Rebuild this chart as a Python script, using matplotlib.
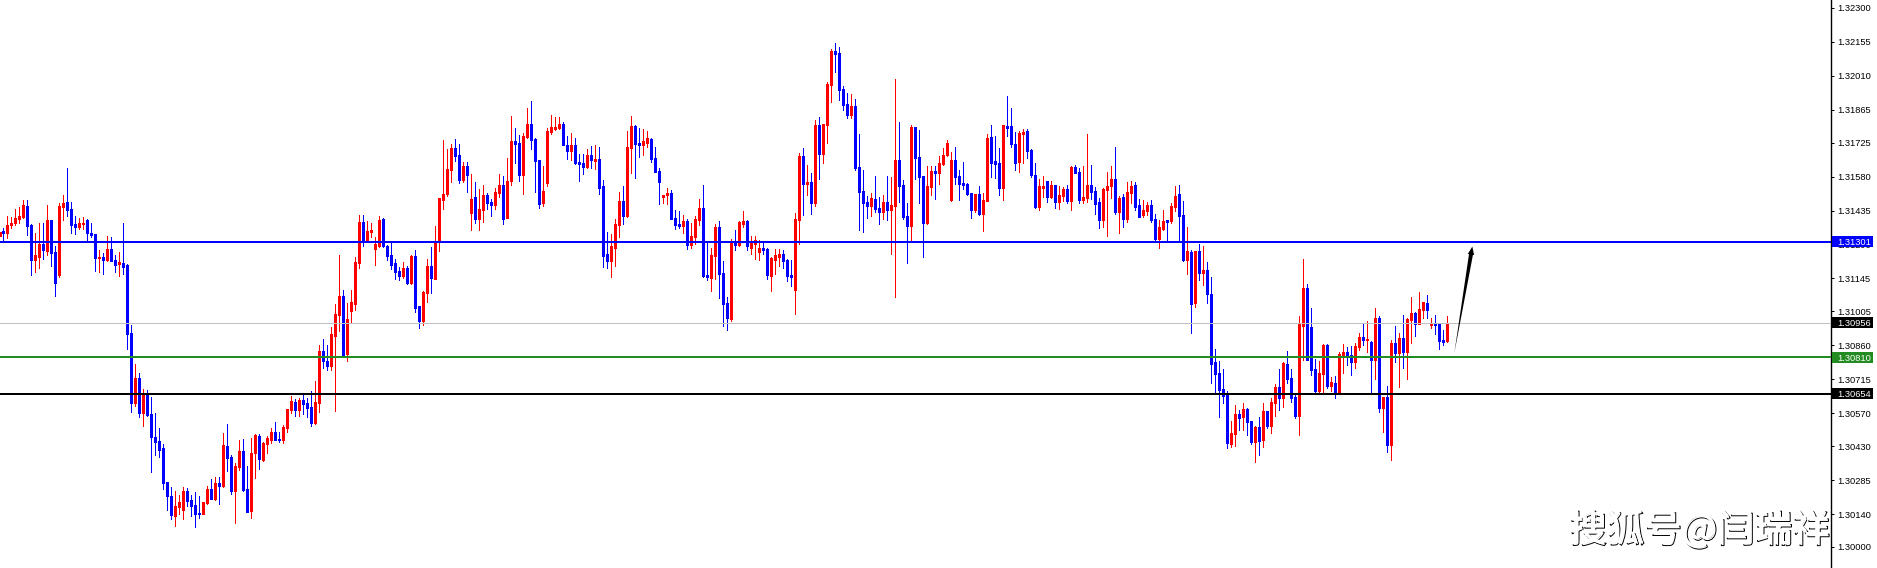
import numpy as np
import matplotlib
matplotlib.use('Agg')
import matplotlib.pyplot as plt
from matplotlib.patches import Polygon, Rectangle
from matplotlib.transforms import IdentityTransform
import matplotlib.patheffects as pe

plt.rcParams['text.hinting'] = 'force_autohint'

# all quotes are in points above 1.30000
BASE = 1.30000

highs = [
    1342,1359,1411,1409,1441,1450,1480,1480,1377,1339,
    1382,1382,1458,1394,1284,1467,1501,1616,1471,1411,
    1403,1407,1399,1382,1335,1266,1254,1326,1322,1245,
    1258,1382,1207,947,780,742,674,669,639,571,
    507,439,277,256,239,221,256,251,221,234,
    217,192,260,290,298,298,486,524,392,358,
    456,460,345,465,482,482,448,473,507,533,
    490,520,588,644,631,635,652,635,665,708,
    861,887,861,938,1036,1245,1096,1041,1096,1238,
    1416,1416,1390,1382,1322,1412,1403,1288,1301,1228,
    1194,1215,1198,1245,1267,1028,1092,1228,1279,1369,
    1488,1736,1697,1719,1740,1719,1642,1642,1591,1557,
    1527,1544,1510,1484,1531,1591,1582,1659,1838,1787,
    1757,1766,1872,1902,1744,1650,1625,1787,1842,1834,
    1834,1813,1753,1766,1744,1676,1676,1697,1710,1714,
    1706,1565,1343,1335,1399,1514,1540,1774,1838,1800,
    1787,1783,1774,1744,1706,1616,1501,1531,1523,1437,
    1433,1416,1399,1382,1412,1484,1544,1301,1275,1378,
    1390,1220,1066,1314,1352,1390,1433,1395,1326,1326,
    1309,1301,1275,1237,1271,1271,1267,1228,1224,1424,
    1680,1702,1629,1595,1821,1834,1804,1983,2124,2150,
    2132,1966,1936,1932,1911,1761,1608,1497,1510,1582,
    1493,1501,1582,1578,1996,1813,1565,1467,1800,1791,
    1778,1582,1625,1625,1625,1668,1702,1736,1685,1706,
    1608,1642,1552,1510,1505,1540,1510,1761,1800,1753,
    1702,1800,1923,1872,1770,1774,1783,1783,1697,1638,
    1569,1582,1561,1561,1544,1540,1535,1544,1625,1629,
    1616,1625,1761,1629,1535,1488,1531,1599,1625,1706,
    1497,1505,1557,1561,1557,1484,1480,1471,1480,1420,
    1395,1437,1395,1467,1540,1544,1476,1365,1267,1262,
    1292,1284,1215,1152,844,793,759,665,537,606,
    584,614,593,537,516,554,614,580,635,695,
    759,789,836,759,653,985,1228,1122,1019,802,
    793,866,866,725,729,832,866,853,857,870,
    913,951,964,879,1019,985,640,687,883,943,
    913,989,977,1066,1002,1088,1045,1075,977,989,
    955,925,985,
]
body_tops = [
    1342,1348,1373,1382,1403,1411,1458,1454,1373,1245,
    1292,1292,1394,1394,1258,1454,1467,1471,1441,1377,
    1382,1382,1394,1339,1335,1237,1237,1271,1271,1224,
    1215,1211,1203,913,721,721,652,648,567,469,
    452,422,277,217,175,192,239,239,200,179,
    145,192,247,247,273,273,435,430,384,345,
    409,409,247,401,477,473,443,465,490,490,
    460,512,588,622,618,627,627,614,597,618,
    836,836,793,908,994,1070,1070,971,1045,1215,
    1386,1386,1348,1352,1292,1395,1399,1284,1245,1211,
    1177,1190,1190,1241,1241,1028,1087,1198,1198,1301,
    1488,1505,1612,1702,1702,1672,1625,1625,1484,1493,
    1441,1501,1501,1471,1514,1544,1544,1561,1731,1731,
    1723,1753,1804,1804,1740,1650,1518,1774,1791,1791,
    1804,1804,1714,1714,1714,1642,1638,1672,1672,1655,
    1655,1540,1249,1284,1377,1476,1476,1706,1795,1795,
    1723,1732,1744,1740,1659,1604,1501,1510,1510,1403,
    1378,1390,1390,1326,1399,1446,1446,1160,1245,1365,
    1365,1169,1041,1297,1297,1386,1390,1390,1297,1309,
    1275,1275,1271,1233,1245,1250,1250,1224,1160,1399,
    1668,1668,1557,1557,1800,1800,1804,1975,2115,2115,
    2107,1953,1889,1881,1881,1621,1518,1471,1488,1484,
    1446,1471,1471,1459,1650,1650,1544,1412,1791,1791,
    1663,1582,1540,1604,1604,1638,1672,1723,1650,1650,
    1582,1552,1548,1510,1505,1505,1480,1744,1749,1646,
    1638,1800,1795,1795,1719,1766,1770,1774,1693,1586,
    1540,1540,1561,1544,1544,1501,1527,1527,1621,1621,
    1599,1493,1544,1544,1518,1471,1527,1540,1569,1569,
    1488,1493,1514,1540,1544,1458,1437,1458,1458,1399,
    1365,1390,1395,1454,1497,1505,1416,1262,1258,1262,
    1262,1181,1181,1079,789,742,674,648,486,567,
    567,589,589,537,512,512,580,580,618,682,
    682,785,780,721,640,951,1105,1105,938,759,
    742,862,862,704,699,823,832,832,819,857,
    896,896,887,874,977,977,640,640,870,870,
    891,891,972,998,998,1015,1045,1041,955,955,
    951,883,955,
]
body_bottoms = [
    1328,1339,1339,1373,1382,1399,1407,1369,1224,1224,
    1237,1266,1262,1254,1126,1160,1450,1437,1373,1365,
    1365,1377,1339,1330,1232,1232,1224,1224,1220,1202,
    1207,1194,908,614,614,571,571,563,469,448,
    413,273,217,136,132,170,158,196,175,140,
    140,140,187,204,204,260,260,379,239,239,
    341,243,149,153,401,375,371,439,456,456,
    456,456,507,584,584,584,610,593,529,529,
    614,793,772,772,900,989,819,823,1006,1036,
    1211,1301,1301,1343,1271,1284,1284,1241,1203,1173,
    1156,1156,1126,1126,1019,964,964,1083,1147,1143,
    1301,1480,1505,1608,1667,1565,1565,1586,1424,1399,
    1399,1437,1467,1458,1458,1510,1399,1403,1561,1719,
    1586,1586,1749,1736,1646,1463,1467,1552,1770,1783,
    1787,1714,1689,1689,1638,1633,1621,1621,1650,1646,
    1531,1241,1220,1220,1275,1373,1412,1412,1702,1719,
    1714,1714,1723,1655,1599,1557,1493,1501,1399,1373,
    1369,1369,1288,1288,1322,1395,1156,1151,1147,1241,
    1164,1036,977,972,1288,1288,1378,1284,1275,1292,
    1258,1267,1160,1156,1224,1237,1220,1156,1151,1096,
    1395,1548,1548,1467,1467,1676,1676,1800,1970,2103,
    1949,1885,1842,1842,1616,1514,1467,1454,1454,1441,
    1429,1429,1437,1437,1454,1540,1407,1369,1369,1659,
    1578,1382,1382,1535,1595,1595,1633,1672,1480,1578,
    1548,1544,1505,1437,1437,1420,1420,1476,1638,1633,
    1531,1531,1787,1719,1638,1642,1761,1689,1586,1450,
    1450,1531,1493,1493,1471,1471,1497,1476,1476,1595,
    1480,1480,1488,1514,1463,1395,1395,1522,1540,1429,
    1429,1399,1399,1510,1450,1407,1416,1433,1395,1313,
    1313,1356,1386,1390,1450,1412,1224,1224,1036,1041,
    1168,1168,1079,780,738,670,644,444,439,482,
    550,554,533,448,448,452,456,516,516,614,
    635,635,716,635,559,559,943,797,755,665,
    665,738,687,687,653,653,819,815,789,789,
    853,883,883,797,797,593,593,435,435,827,
    827,832,832,968,951,951,1011,1011,947,947,
    879,874,879,
]
lows = [
    1328,1309,1318,1360,1373,1382,1403,1330,1160,1173,
    1190,1228,1245,1198,1070,1151,1394,1411,1339,1335,
    1356,1356,1309,1322,1177,1173,1164,1220,1220,1173,
    1156,1164,844,576,601,554,516,558,320,392,
    384,247,158,119,89,140,119,175,132,85,
    123,140,183,204,200,183,256,324,226,102,
    328,239,149,123,294,332,367,401,443,456,
    448,443,490,571,558,558,567,554,516,524,
    576,763,755,755,581,921,819,793,955,1011,
    1190,1284,1301,1322,1203,1279,1279,1224,1185,1143,
    1139,1147,1122,1122,1002,934,947,1045,1083,1143,
    1262,1441,1497,1557,1646,1552,1557,1514,1352,1382,
    1352,1386,1441,1412,1441,1493,1377,1403,1544,1638,
    1561,1505,1744,1697,1514,1446,1454,1540,1761,1778,
    1783,1714,1655,1650,1633,1561,1591,1616,1616,1612,
    1505,1194,1190,1151,1198,1322,1377,1407,1595,1574,
    1663,1672,1706,1642,1599,1463,1467,1463,1399,1356,
    1360,1339,1271,1275,1292,1373,1151,1139,1092,1143,
    1062,943,925,964,1267,1284,1365,1267,1250,1228,
    1224,1250,1143,1092,1164,1198,1190,1134,1113,994,
    1292,1416,1501,1420,1454,1569,1638,1723,1898,2026,
    1906,1864,1830,1830,1608,1352,1343,1403,1412,1429,
    1378,1399,1395,1250,1066,1471,1399,1211,1305,1569,
    1467,1237,1378,1501,1484,1548,1629,1668,1476,1548,
    1480,1527,1501,1403,1429,1416,1348,1476,1578,1574,
    1501,1480,1753,1706,1608,1599,1638,1659,1578,1446,
    1437,1493,1471,1488,1446,1441,1476,1467,1437,1595,
    1467,1467,1471,1484,1420,1360,1365,1326,1488,1420,
    1339,1365,1386,1467,1437,1407,1407,1416,1386,1301,
    1275,1352,1309,1382,1433,1309,1220,1164,913,1024,
    1139,1117,1041,699,657,554,614,422,426,431,
    499,499,478,439,362,392,426,507,486,559,
    584,597,699,618,550,478,797,797,734,653,
    657,661,678,665,635,653,742,776,734,763,
    840,862,832,657,716,576,490,405,371,789,
    682,763,716,870,900,951,977,977,934,908,
    844,862,874,
]
# u = closed higher, d = closed lower, ten candles a row
direction = "".join([
    "uduuuuuddu", "ududduuddd", "uudddududd", "udddududdd", "dddduuuddd",
    "duudududdu", "udduuduuud", "duuududddu", "udduuuduuu", "uduuuudddd",
    "dududduudu", "uuuuddudud", "uudduuduud", "duuddduuuu", "uddudddudu",
    "ddduuuduud", "duuddduudd", "duduuudduu", "ddduduuduu", "udduuudddu",
    "udududuuud", "ddduddddud", "duduudddud", "dduuduuuud", "dddduduudd",
    "duddduuddd", "uududuudud", "duuddduuud", "uduudduudd", "uuduuddudu",
    "dudddddduu", "duddududuu", "duddduuddd", "uududuuddu", "ududududud",
    "uduuduudud", "ddu",
])

levels = [1301, 956, 810, 654]
level_labels = ['1.31301', '1.30956', '1.30810', '1.30654']
level_colors = ['#0000ff', '#c0c0c0', '#228b22', '#000000']
label_backs = ['#0000ff', '#000000', '#228b22', '#000000']
level_widths = [2, 1, 2, 2]

tick_labels = ['1.32300', '1.32155', '1.32010', '1.31865', '1.31725', '1.31580',
               '1.31435', '1.31290', '1.31145', '1.31005', '1.30860', '1.30715',
               '1.30570', '1.30430', '1.30285', '1.30140', '1.30000']

arrow_from = (363.7, 826)
arrow_to = (368.2, 1281)

W, H = 1877, 568
px = 72 / 100  # one pixel in points

fig = plt.figure(figsize=(W / 100, H / 100), dpi=100, facecolor='white')
ax = fig.add_axes([0, 0, 1830.5 / W, 1])
ax.set_xlim(0.125, 457.75)
ax.set_ylim(BASE - 90e-5, BASE + 2333e-5)

x = np.arange(len(highs))
hi = BASE + np.array(highs) / 1e5
lo = BASE + np.array(lows) / 1e5
top = BASE + np.array(body_tops) / 1e5
bot = BASE + np.array(body_bottoms) / 1e5
colors = ['#ff0000' if d == 'u' else '#0000ff' for d in direction]

for price, col, lw in zip(levels, level_colors, level_widths):
    ax.axhline(BASE + price / 1e5, color=col, lw=lw * px, zorder=3)

ax.vlines(x, lo, hi, colors=colors, lw=1 * px, zorder=2, antialiased=False)
ax.vlines(x, bot, top, colors=colors, lw=3 * px, zorder=2, antialiased=False)

# hand drawn looking arrow, thin at the start and thick at the head
p0 = ax.transData.transform((arrow_from[0], BASE + arrow_from[1] / 1e5))
p1 = ax.transData.transform((arrow_to[0], BASE + arrow_to[1] / 1e5))
d = (p1 - p0) / np.linalg.norm(p1 - p0)
n = np.array([-d[1], d[0]])
neck = p1 - d * 8
shape = [p0, neck + n * 2.0, neck + n * 3.2, p1, neck - n * 3.2, neck - n * 2.0]
ax.add_patch(Polygon(shape, closed=True, fc='black', ec='none', transform=IdentityTransform(), zorder=4))

for s in ['left', 'top', 'bottom']:
    ax.spines[s].set_visible(False)
ax.spines['right'].set_linewidth(1.4 * px)
ax.set_xticks([])
ax.yaxis.tick_right()
ax.set_yticks([float(t) for t in tick_labels])
ax.set_yticklabels(tick_labels, fontfamily='Liberation Sans', fontsize=6.7, color='black')
ax.tick_params(axis='y', length=3 * px, width=1 * px, pad=2.5, color='black')

# price tags on the scale
for price, lab, back in zip(levels, level_labels, label_backs):
    yp = ax.transData.transform((0, BASE + price / 1e5))[1]
    fig.add_artist(Rectangle((1832, yp - 5.5), 41, 11, fc=back, ec='none', transform=IdentityTransform(), zorder=5))
    fig.text(1837 / W, yp / H, lab, va='center_baseline', ha='left',
             fontfamily='Liberation Sans', fontsize=6.7, color='white', zorder=6)

fig.text(1829 / W, 1 - 541 / H, '搜狐号@闫瑞祥', ha='right', va='baseline',
         fontfamily=['Noto Sans CJK SC', 'DejaVu Sans'], fontsize=27, color='white', zorder=10,
         path_effects=[pe.Stroke(linewidth=0.7, foreground='black', offset=(1.2, -1.2)),
                       pe.Stroke(linewidth=0.7, foreground='white'), pe.Normal()])

fig.savefig('out.png', dpi=100, facecolor='white')
